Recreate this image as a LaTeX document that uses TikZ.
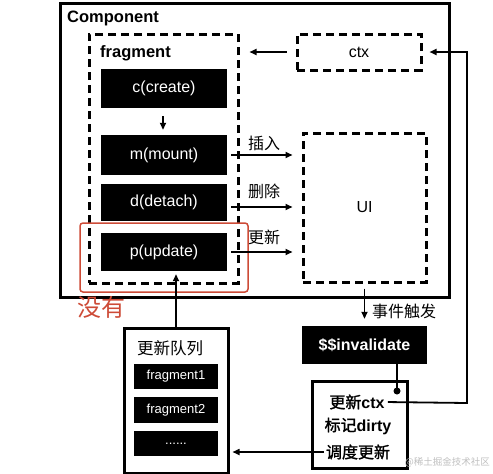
\documentclass[tikz,border=0pt]{standalone}
\usepackage{fontspec}
\setmainfont{Liberation Sans}
\newfontfamily\cjk{Noto Sans CJK SC}
\newfontfamily\cjkb[FakeBold=1.5]{Noto Sans CJK SC}
\newcommand\latb[1]{{\rmfamily\bfseries #1}}
\usetikzlibrary{arrows.meta}
\definecolor{redmark}{RGB}{205,75,55}
\tikzset{
  blk/.style={fill=black,text=white,inner sep=0pt,font=\fontsize{16}{18}\selectfont},
  smallblk/.style={fill=black,text=white,inner sep=0pt,minimum width=84pt,font=\fontsize{13}{15}\selectfont},
  dashbox/.style={draw,line width=3pt,dash pattern=on 8pt off 5pt,inner sep=0pt},
  solidbox/.style={draw,line width=3pt,inner sep=0pt},
  conn/.style={line width=1.6pt,-{Triangle[length=7pt,width=6pt]}},
  lbl/.style={font=\cjk\fontsize{16}{18}\selectfont,inner sep=0pt},
}
\begin{document}
\begin{tikzpicture}[x=1pt,y=-1pt]
\useasboundingbox (0,0) rectangle (493,474);
% containers
\node[solidbox,minimum width=389pt,minimum height=294pt] (comp) at (254.5,150) {};
\node[anchor=west,font=\bfseries\fontsize{16.5}{18}\selectfont,inner sep=0pt] (complbl) at (67,18) {Component};
\node[dashbox,minimum width=149pt,minimum height=249pt] (frag) at (163.5,158.5) {};
\node[anchor=west,font=\bfseries\fontsize{16.5}{18}\selectfont,inner sep=0pt] (fraglbl) at (100,53) {fragment};
\node[dashbox,minimum width=124pt,minimum height=36pt,font=\fontsize{16}{18}\selectfont] (ctx) at (359,52) {ctx};
\node[dashbox,minimum width=123pt,minimum height=149pt,font=\fontsize{16}{18}\selectfont] (ui) at (364.5,207.5) {UI};
% fragment functions
\node[blk,minimum width=126pt,minimum height=39pt] (c) at (164,88.5) {c(create)};
\node[blk,minimum width=126pt,minimum height=40pt] (m) at (164,155) {m(mount)};
\node[blk,minimum width=126pt,minimum height=37pt] (d) at (164,202.5) {d(detach)};
\node[blk,minimum width=126pt,minimum height=38pt] (p) at (164,252) {p(update)};
% red mark
\node[draw=redmark,line width=1.5pt,rounded corners=3pt,minimum width=168pt,minimum height=69pt,inner sep=0pt] (redbox) at (164,257.5) {};
\node[text=redmark,font=\cjk\fontsize{24}{26}\selectfont,inner sep=0pt] (meiyou) at (101,307) {没有};
% lower boxes
\node[blk,minimum width=125pt,minimum height=38pt,font=\bfseries\fontsize{16}{18}\selectfont] (inv) at (364.5,345) {\$\$invalidate};
\node[solidbox,minimum width=95pt,minimum height=87pt] (dirty) at (359.5,424.5) {};
\node[font=\cjkb\fontsize{16}{18}\selectfont,inner sep=0pt] (t1) at (357,402) {更新\latb{ctx}};
\node[font=\cjkb\fontsize{16}{18}\selectfont,inner sep=0pt] (t2) at (358,426) {标记\latb{dirty}};
\node[font=\cjkb\fontsize{16}{18}\selectfont,inner sep=0pt] (t3) at (358,452) {调度更新};
\node[solidbox,minimum width=104pt,minimum height=145pt] (queue) at (176,400.5) {};
\node[font=\cjk\fontsize{16.5}{18}\selectfont,inner sep=0pt] (qlbl) at (170,348) {更新队列};
\node[smallblk,minimum height=25pt] (f1) at (176,376.5) {fragment1};
\node[smallblk,minimum height=26pt] (f2) at (176,410) {fragment2};
\node[smallblk,minimum height=25pt] (f3) at (176,443.5) {......};
\coordinate (dot) at (397,391);
\coordinate (corner1) at (467,403);
\coordinate (corner2) at (467,52);
% watermark
\node[text=black!25,font=\cjk\fontsize{9.5}{11}\selectfont,inner sep=0pt,anchor=east] (wm) at (490,462) {@稀土掘金技术社区};
% connectors
\draw[conn,shorten <=8pt,shorten >=5pt] (c.south -| 163,0) -- (m.north -| 163,0);
\draw[conn,shorten <=4pt,shorten >=9pt] (m.east) -- (m.east -| ui.west);
\draw[conn,shorten <=4pt,shorten >=9pt] (d.east |- 0,207) -- (ui.west |- 0,207);
\draw[conn,shorten <=4pt,shorten >=9pt] (p.east) -- (p.east -| ui.west);
\node[lbl] (l1) at (264,143) {插入};
\node[lbl] (l2) at (264,191) {删除};
\node[lbl] (l3) at (264,237) {更新};
\draw[conn,shorten <=9pt,shorten >=10pt] (ctx.west) -- (ctx.west -| frag.east);
\draw[conn,shorten <=5pt,shorten >=7pt] (ui.south) -- (inv.north);
\node[lbl,anchor=west] (l4) at (372,311) {事件触发};
\draw[line width=1.6pt] (inv.south -| dot) -- (dot);
\fill (dot) circle (3.5pt);
\draw[line width=1.8pt,-{Triangle[length=7pt,width=6pt]},shorten <=3pt,shorten >=7pt] (t1.east) -- (corner1) -- (corner2) -- (ctx.east);
\draw[conn,shorten <=2pt,shorten >=3pt] (t3.west) -- (t3.west -| queue.east);
\draw[conn,shorten >=3pt] (queue.north) -- (p.south -| queue.north);
\end{tikzpicture}
\end{document}
